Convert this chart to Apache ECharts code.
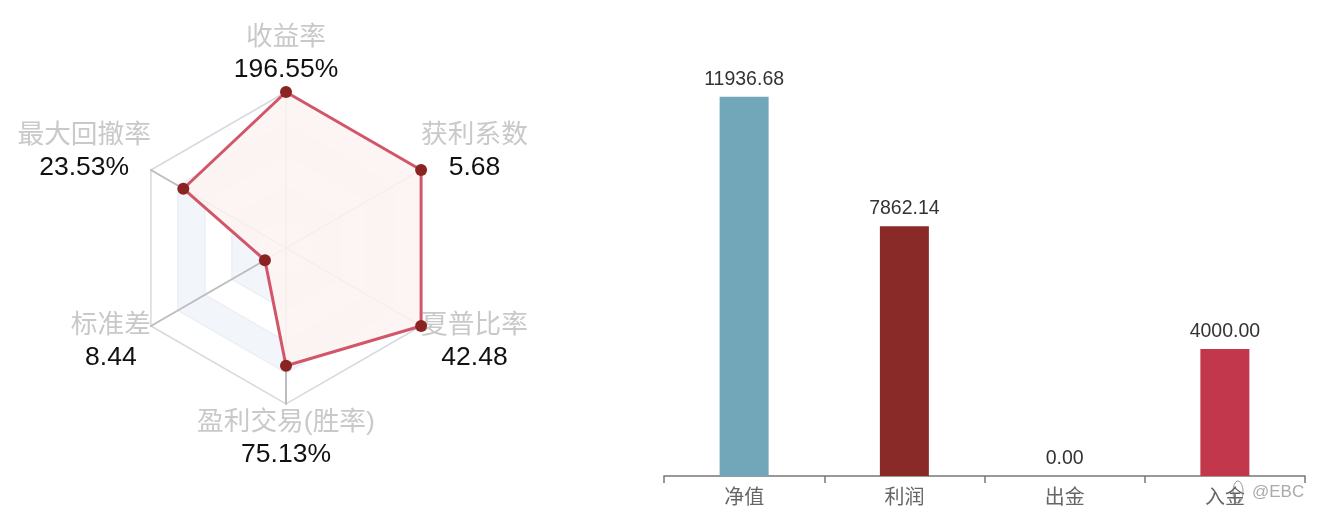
<!DOCTYPE html>
<html><head><meta charset="utf-8">
<style>html,body{margin:0;padding:0;background:#fff}#c{width:1321px;height:526px}</style>
<script src="https://cdn.jsdelivr.net/npm/echarts@6/dist/echarts.min.js"></script>
</head><body><div id="c"></div>
<script>
const radarNames = ['收益率','最大回撤率','标准差','盈利交易(胜率)','夏普比率','获利系数'];
const radarLabels = ['196.55%','23.53%','8.44','75.13%','42.48','5.68'];
const radarValues = [100,76,15.6,75.5,100,100];
const barCategories = ['净值','利润','出金','入金'];
const barValues = [11936.68,7862.14,0,4000];
const barColors = ['#72a7b9','#8a2a28','#8a2a28','#c2374b'];
const FONT = '"Liberation Sans","Noto Sans CJK SC",sans-serif';
// blank spacer rows that nudge each two-line label off its anchor
const spacerAfter = {'收益率':'a','最大回撤率':'b','获利系数':'b'};
const spacerBefore = {'标准差':'c','夏普比率':'c','盈利交易(胜率)':'d'};
const chart = echarts.init(document.getElementById('c'), null, {renderer:'canvas'});
chart.setOption({
  animation:false,
  backgroundColor:'#fff',
  textStyle:{fontFamily:FONT},
  radar:{
    center:[286,248], radius:156, startAngle:90, splitNumber:5, shape:'polygon',
    indicator:radarNames.map((name)=>({name,max:100,min:0})),
    nameGap:0,
    axisName:{
      formatter:(n)=>{
        const i=radarNames.indexOf(n);
        let s='{n|'+n+'}\n{v|'+radarLabels[i]+'}';
        if(spacerAfter[n]) s+='\n{'+spacerAfter[n]+'| }';
        if(spacerBefore[n]) s='{'+spacerBefore[n]+'| }\n'+s;
        return s;
      },
      rich:{
        n:{fontSize:26.7,color:'#c9c9c9',fontFamily:FONT,lineHeight:32,align:'center'},
        v:{fontSize:26.5,color:'#111',fontFamily:FONT,lineHeight:32,align:'center'},
        a:{fontSize:1,lineHeight:6},
        b:{fontSize:1,lineHeight:36},
        c:{fontSize:1,lineHeight:31},
        d:{fontSize:1,lineHeight:3}
      }
    },
    axisLine:{lineStyle:{color:'#bdbdbd',width:2}},
    splitLine:{lineStyle:{color:['#eceff5','#eceff5','#eceff5','#eceff5','#eceff5','#d6d9e0'],width:1.5}},
    splitArea:{show:true,areaStyle:{color:['#fff','#f2f5fa','#fff','#f2f5fa','#fff'],opacity:1,shadowBlur:0}}
  },
  grid:{left:664,width:641,top:94.8,height:381.2,containLabel:false},
  xAxis:{
    type:'category',data:barCategories,
    axisLine:{lineStyle:{color:'#777',width:1.5}},
    axisTick:{show:true,length:7,lineStyle:{color:'#777',width:1.5},alignWithLabel:false},
    axisLabel:{fontSize:20,color:'#666',margin:12,fontFamily:FONT}
  },
  yAxis:{type:'value',min:0,max:12000,show:false,splitLine:{show:false}},
  series:[
    {type:'radar',symbol:'none',z:2,
     lineStyle:{width:0,opacity:0},
     areaStyle:{color:'#fdf4f2',opacity:0.9},
     data:[{value:radarValues}]},
    {type:'radar',symbol:'circle',symbolSize:12,z:3,
     lineStyle:{color:'#d2566a',width:3},
     itemStyle:{color:'#8b2323'},
     data:[{value:radarValues}]},
    {type:'bar',barWidth:49,
     data:barValues.map((v,i)=>({value:v,itemStyle:{color:barColors[i]}})),
     label:{show:true,position:'top',distance:7.5,fontSize:19.5,color:'#333',fontFamily:FONT,
       formatter:(p)=>p.value.toFixed(2)}}
  ],
  graphic:[
    {type:'text',left:1252,top:484,style:{text:'@EBC',fontSize:17,fontFamily:FONT,fill:'#aaa'}},
    {type:'ellipse',shape:{cx:1238,cy:492,rx:5,ry:11},style:{fill:'rgba(255,255,255,0.6)',stroke:'#999',lineWidth:1}}
  ]
});
</script></body></html>
